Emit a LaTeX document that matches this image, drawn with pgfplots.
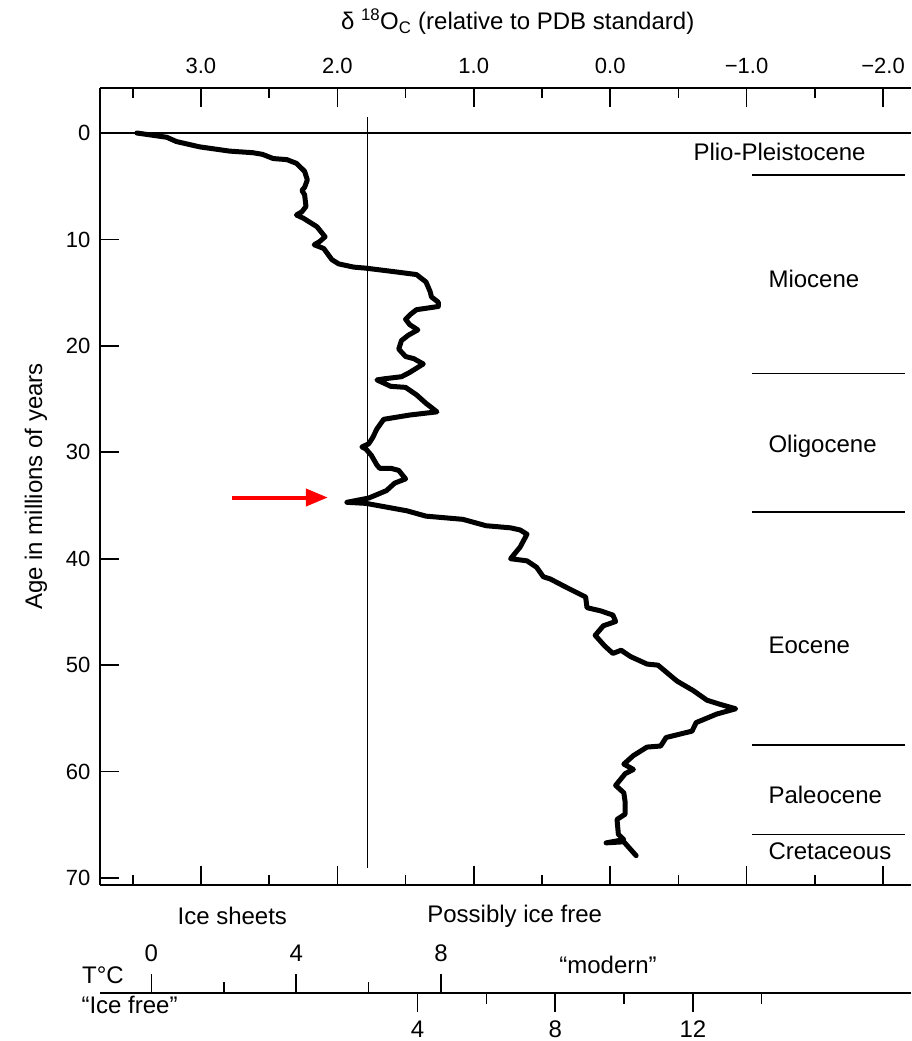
\documentclass[border=0pt]{standalone}
\usepackage{fontspec}
\setmainfont{Liberation Sans}
\usepackage{pgfplots}
\pgfplotsset{compat=1.18}
\usetikzlibrary{arrows.meta}

\tikzset{
  scalefont/.style={font=\fontsize{22}{26}\selectfont},
  bigfont/.style={font=\fontsize{24}{28}\selectfont},
}

\begin{document}
\begin{tikzpicture}[x=1pt,y=1pt]
\path[use as bounding box] (0,0) rectangle (911,1041);

% main panel: delta 18O against age
\begin{axis}[
  at={(100pt,156pt)}, anchor=south west,
  scale only axis, width=811pt, height=797pt,
  x dir=reverse, y dir=reverse,
  xmin=-2.205, xmax=3.74, ymin=-4.23, ymax=70.66,
  axis x line*=box, axis y line*=left,
  axis line style={line width=2.5pt},
  xtick={3,2,1,0,-1,-2},
  xticklabels={3.0,2.0,1.0,0.0,−1.0,−2.0},
  minor xtick={3.5,2.5,1.5,0.5,-0.5,-1.5},
  xticklabel pos=upper,
  ytick={0,10,...,70},
  tick align=inside,
  major tick length=19pt, minor tick length=10pt,
  every tick/.style={black, line width=1.6pt},
  /pgf/number format/assume math mode=true,
  ticklabel style={scalefont},
  xticklabel style={yshift=11pt},
  yticklabel style={xshift=-6pt},
  xlabel={δ \textsuperscript{18}O\textsubscript{C} (relative to PDB standard)},
  ylabel={Age in millions of years},
  label style={bigfont},
  xlabel style={at={(axis description cs:0.515,1)}, anchor=center, yshift=66pt},
  ylabel style={at={(axis description cs:0,0.5)}, anchor=center, yshift=64pt},
  clip=false,
]
% epoch boundaries and reference lines
\addplot[black, line width=1.8pt] coordinates {(3.74,0) (-2.205,0)};
\addplot[black, line width=1.4pt] coordinates {(1.78,-1.5) (1.78,69.06)};
\addplot[black, line width=1.5pt] coordinates {(-1.04,3.95) (-2.16,3.95)};
\addplot[black, line width=1.5pt] coordinates {(-1.04,22.6) (-2.16,22.6)};
\addplot[black, line width=1.5pt] coordinates {(-1.04,35.6) (-2.16,35.6)};
\addplot[black, line width=1.5pt] coordinates {(-1.04,57.5) (-2.16,57.5)};
\addplot[black, line width=1.5pt] coordinates {(-1.04,65.9) (-2.16,65.9)};

% oxygen isotope curve
\addplot[black, line width=5pt, line join=round, line cap=round] coordinates {
(3.47,0) (3.25,0.4) (3.18,0.8) (3.01,1.3) (2.79,1.7) (2.62,1.85) (2.55,2.0)
(2.47,2.4) (2.37,2.5) (2.30,2.85) (2.24,3.6) (2.22,4.4) (2.24,5.1) (2.26,5.4)
(2.24,5.8) (2.23,6.9) (2.26,7.4) (2.30,7.7) (2.25,8.0) (2.15,8.8) (2.09,9.75)
(2.13,10.2) (2.17,10.5) (2.10,10.85) (2.04,11.9) (1.99,12.3) (1.88,12.6)
(1.79,12.7) (1.57,13.05) (1.42,13.3) (1.35,14.0) (1.32,14.9) (1.31,15.4)
(1.26,15.9) (1.26,16.3) (1.42,16.6) (1.46,17.0) (1.50,17.5) (1.47,18.0)
(1.41,18.5) (1.48,19.0) (1.53,19.5) (1.55,20.3) (1.50,21.0) (1.44,21.2)
(1.37,21.7) (1.47,22.5) (1.53,22.9) (1.66,23.1) (1.71,23.2) (1.65,23.55)
(1.61,23.8) (1.50,23.9) (1.42,24.6) (1.35,25.4) (1.27,26.2) (1.47,26.5)
(1.66,26.9) (1.71,27.8) (1.74,28.6) (1.77,29.2) (1.82,29.5) (1.79,29.7)
(1.75,30.3) (1.71,31.2) (1.69,31.5) (1.61,31.5) (1.55,31.7) (1.50,32.5)
(1.58,32.9) (1.64,33.6) (1.77,34.3) (1.93,34.7) (1.79,34.8) (1.49,35.5)
(1.35,36.0) (1.08,36.3) (0.91,36.9) (0.73,37.1) (0.66,37.3) (0.61,37.7)
(0.66,38.9) (0.73,40.0) (0.61,40.2) (0.54,40.8) (0.49,41.7) (0.44,41.9)
(0.32,42.7) (0.18,43.6) (0.17,44.6) (0.07,44.9) (-0.02,45.3) (-0.04,45.9)
(0.05,46.3) (0.11,47.2) (0.04,48.2) (-0.02,48.9) (-0.08,48.6) (-0.15,49.2)
(-0.27,49.9) (-0.35,50.0) (-0.49,51.5) (-0.61,52.4) (-0.71,53.3) (-0.81,53.7)
(-0.92,54.1) (-0.78,54.6) (-0.63,55.4) (-0.60,56.2) (-0.41,56.8) (-0.37,57.6)
(-0.27,57.7) (-0.17,58.5) (-0.10,59.3) (-0.17,59.8) (-0.11,60.2) (-0.04,61.3)
(-0.10,62.0) (-0.11,62.9) (-0.11,64.0) (-0.05,64.5) (-0.06,65.9) (-0.10,66.4)
(0.03,66.7) (-0.10,66.6) (-0.19,67.9)
};

% red arrow
\addplot[red, line width=4pt, -{Triangle[length=22pt,width=17pt]}]
  coordinates {(2.77,34.25) (2.07,34.25)};

\node[bigfont, anchor=west] at (axis cs:-0.585,1.8) {Plio-Pleistocene};
\node[bigfont, anchor=west] at (axis cs:-1.135,13.7) {Miocene};
\node[bigfont, anchor=west] at (axis cs:-1.135,29.4) {Oligocene};
\node[bigfont, anchor=west] at (axis cs:-1.135,48.1) {Eocene};
\node[bigfont, anchor=west] at (axis cs:-1.135,62.2) {Paleocene};
\node[bigfont, anchor=west] at (axis cs:-1.135,67.5) {Cretaceous};
\node[bigfont] at (axis cs:2.77,73.57) {Ice sheets};
\node[bigfont] at (axis cs:0.70,73.57) {Possibly ice free};
\end{axis}

% temperature scale, ice sheets
\begin{axis}[
  at={(100pt,48pt)}, anchor=north west,
  scale only axis, width=811pt, height=10pt,
  xmin=-1.42, xmax=20.98, ymin=0, ymax=1,
  axis x line*=top, hide y axis,
  axis line style={line width=2.5pt},
  xtick={0,4,8}, minor xtick={2,6},
  tick align=outside,
  major tick length=19pt, minor tick length=11pt,
  every tick/.style={black, line width=1.6pt},
  /pgf/number format/assume math mode=true,
  ticklabel style={bigfont, yshift=9pt},
]
\end{axis}

% temperature scale, ice free
\begin{axis}[
  at={(100pt,48pt)}, anchor=south west,
  scale only axis, width=811pt, height=10pt,
  xmin=-5.23, xmax=18.34, ymin=0, ymax=1,
  axis x line*=bottom, hide y axis,
  axis line style={line width=2.5pt},
  xtick={4,8,12}, minor xtick={6,10,14},
  tick align=outside,
  major tick length=19pt, minor tick length=11pt,
  every tick/.style={black, line width=1.6pt},
  /pgf/number format/assume math mode=true,
  ticklabel style={bigfont, yshift=-5pt},
]
\end{axis}

\node[bigfont] at (103,66) {T°C};
\node[bigfont] at (608,76) {“modern”};
\node[bigfont, anchor=west] at (78,36) {“Ice free”};
\end{tikzpicture}
\end{document}
